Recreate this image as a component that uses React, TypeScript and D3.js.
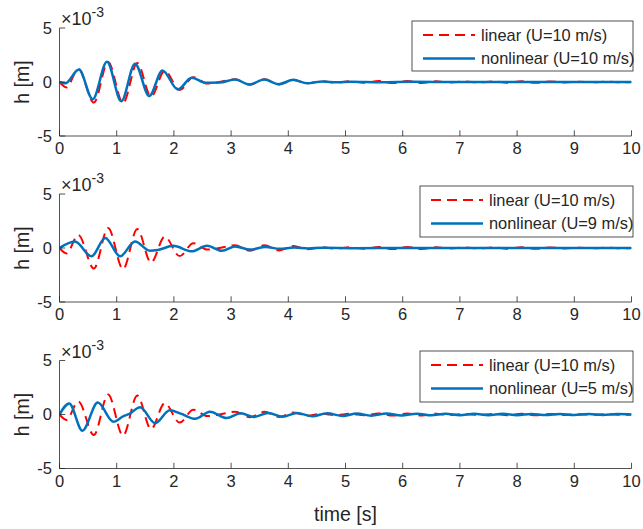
import React from 'react';
import * as d3 from 'd3';

// ---------- data (h in units of 1e-3 m, t in s) ----------
const TIME_TICKS = [0, 1, 2, 3, 4, 5, 6, 7, 8, 9, 10];
const H_TICKS = [-5, 0, 5];

const linearT = [0, 0.12, 0.33, 0.6, 0.85, 1.11, 1.36, 1.6, 1.84, 2.1, 2.34, 2.58, 2.82, 3.07, 3.33, 3.58, 3.84, 4.09, 4.33, 4.58, 4.83, 5.08, 5.33, 5.58, 5.83, 6.08, 6.33, 6.58, 6.83, 7.08, 7.33, 7.58, 7.83, 8.08, 8.33, 8.58, 8.83, 9.08, 9.33, 9.58, 9.83, 10];
const linearH = [0, -0.5, 1.2, -1.9, 1.85, -1.95, 1.75, -1.35, 1.05, -0.75, 0.45, -0.15, 0.02, 0.25, -0.25, 0.25, -0.22, 0.18, -0.12, 0.07, -0.05, 0.06, -0.08, 0.1, -0.1, 0.1, -0.09, 0.07, -0.05, 0.04, -0.04, 0.05, -0.06, 0.06, -0.06, 0.05, -0.04, 0.03, -0.03, 0.03, -0.03, 0];

const nl10T = [0, 0.1, 0.34, 0.58, 0.83, 1.08, 1.32, 1.57, 1.8, 2.07, 2.31, 2.55, 2.8, 3.07, 3.32, 3.58, 3.83, 4.09, 4.33, 4.6, 4.85, 5.1, 5.6, 6.2, 7, 8, 9, 10];
const nl10H = [0, -0.12, 1.15, -1.6, 1.87, -1.78, 1.7, -1.3, 1.07, -0.7, 0.4, -0.06, -0.05, 0.23, -0.23, 0.23, -0.2, 0.2, -0.12, 0.05, -0.03, 0.03, -0.02, 0.02, 0, 0.01, 0, 0.01];

const nl9T = [0, 0.27, 0.56, 0.8, 1.06, 1.32, 1.58, 1.72, 1.99, 2.31, 2.58, 2.84, 3.07, 3.33, 3.6, 3.85, 4.1, 4.35, 4.6, 5.2, 6, 7, 8, 9, 10];
const nl9H = [0, 0.6, -0.77, 0.93, -0.77, 0.6, -0.25, -0.18, 0.2, -0.3, 0.2, -0.25, 0.15, -0.15, 0.1, -0.08, 0.05, -0.04, 0.02, -0.02, 0.01, -0.01, 0, 0, 0];

const nl5T = [0, 0.17, 0.4, 0.67, 0.94, 1.12, 1.22, 1.41, 1.67, 1.93, 2.12, 2.37, 2.63, 2.92, 3.17, 3.4, 3.65, 3.9, 4.15, 4.42, 4.68, 4.95, 5.2, 5.45, 5.72, 5.98, 6.25, 6.5, 6.75, 7.0, 7.25, 7.5, 7.75, 8.0, 8.25, 8.5, 8.75, 9.0, 9.25, 9.5, 9.75, 10];
const nl5H = [0, 1.03, -1.5, 1.1, -0.67, -0.15, 0.05, 0.67, -0.8, 0.4, 0.08, -0.4, 0.26, -0.33, 0.12, -0.22, 0.14, -0.2, 0.13, -0.16, 0.11, -0.13, 0.09, -0.11, 0.09, -0.09, 0.08, -0.08, 0.07, -0.07, 0.06, -0.06, 0.06, -0.06, 0.05, -0.05, 0.05, -0.05, 0.04, -0.04, 0.04, 0];

const LINEAR_LABEL = 'linear (U=10 m/s)';
const NONLINEAR_LABELS = ['nonlinear (U=10 m/s)', 'nonlinear (U=9 m/s)', 'nonlinear (U=5 m/s)'];
const Y_LABEL = 'h [m]';
const X_LABEL = 'time [s]';

// ---------- layout ----------
const W = 643;
const H = 529;
const X0 = 59.5;
const X1 = 631.5;
const PANEL_TOPS = [28, 194, 360.5];
const PANEL_H = 108;
const LEGENDS = [
  { x: 412, y: 21, w: 221, h: 50 },
  { x: 420, y: 186, w: 213, h: 51 },
  { x: 420, y: 351, w: 213, h: 51 },
];
const FONT = '"Liberation Sans", Arial, Helvetica, sans-serif';
const AX = '#262626';
const BLUE = '#0072BD';
const RED = '#FF0000';

const zip = (t: number[], h: number[]) => t.map((v, i) => [v, h[i]] as [number, number]);

const panels = [
  { nl: zip(nl10T, nl10H), label: NONLINEAR_LABELS[0] },
  { nl: zip(nl9T, nl9H), label: NONLINEAR_LABELS[1] },
  { nl: zip(nl5T, nl5H), label: NONLINEAR_LABELS[2] },
];
const linearData = zip(linearT, linearH);

const x = d3.scaleLinear().domain([0, 10]).range([X0, X1]);

function Panel({ idx }: { idx: number }) {
  const top = PANEL_TOPS[idx];
  const bottom = top + PANEL_H;
  const y = d3.scaleLinear().domain([-5, 5]).range([bottom, top]);
  const line = d3
    .line<[number, number]>()
    .x((d) => x(d[0]))
    .y((d) => y(d[1]))
    .curve(d3.curveMonotoneX);
  const p = panels[idx];
  const lg = LEGENDS[idx];
  const tick = 5.7;
  const clipId = `clip${idx}`;
  return (
    <g>
      <defs>
        <clipPath id={clipId}>
          <rect x={X0} y={top} width={X1 - X0} height={PANEL_H} />
        </clipPath>
      </defs>
      <g clipPath={`url(#${clipId})`}>
        <path d={line(linearData) || ''} fill="none" stroke={RED} strokeWidth={2} strokeDasharray="10,6" />
        <path d={line(p.nl) || ''} fill="none" stroke={BLUE} strokeWidth={2.5} strokeLinejoin="round" />
      </g>
      {/* axes */}
      <line x1={X0} x2={X0} y1={top} y2={bottom} stroke={AX} strokeWidth={0.8} />
      <line x1={X0} x2={X1} y1={bottom} y2={bottom} stroke={AX} strokeWidth={0.8} />
      {TIME_TICKS.map((t) => (
        <g key={t}>
          <line x1={x(t)} x2={x(t)} y1={bottom} y2={bottom - tick} stroke={AX} strokeWidth={0.8} />
          <text x={x(t)} y={bottom + 18} textAnchor="middle" fontSize={16.5} fill={AX} fontFamily={FONT}>
            {t}
          </text>
        </g>
      ))}
      {H_TICKS.map((v) => (
        <g key={v}>
          <line x1={X0} x2={X0 + tick} y1={y(v)} y2={y(v)} stroke={AX} strokeWidth={0.8} />
          <text x={52} y={y(v)} dy="0.35em" textAnchor="end" fontSize={16.5} fill={AX} fontFamily={FONT}>
            {v}
          </text>
        </g>
      ))}
      <text x={61} y={top - 3} fontSize={18} fill={AX} fontFamily={FONT}>
        ×10
        <tspan dy={-8} fontSize={14}>
          -3
        </tspan>
      </text>
      <text
        transform={`translate(29,${(top + bottom) / 2}) rotate(-90)`}
        textAnchor="middle"
        fontSize={19.5}
        fill={AX}
        fontFamily={FONT}
      >
        {Y_LABEL}
      </text>
      {/* legend */}
      <rect x={lg.x} y={lg.y} width={lg.w} height={lg.h} fill="#fff" stroke={AX} strokeWidth={0.8} />
      <line x1={lg.x + 11} x2={lg.x + 63} y1={lg.y + 14} y2={lg.y + 14} stroke={RED} strokeWidth={2} strokeDasharray="10,6" />
      <text x={lg.x + 69} y={lg.y + 14} dy="0.35em" fontSize={16.4} fill={AX} fontFamily={FONT}>
        {LINEAR_LABEL}
      </text>
      <line x1={lg.x + 11} x2={lg.x + 63} y1={lg.y + 37.5} y2={lg.y + 37.5} stroke={BLUE} strokeWidth={2.5} />
      <text x={lg.x + 69} y={lg.y + 37.5} dy="0.35em" fontSize={16.4} fill={AX} fontFamily={FONT}>
        {p.label}
      </text>
    </g>
  );
}

export default function App() {
  return (
    <svg
      width={W}
      height={H}
      viewBox={`0 0 ${W} ${H}`}
      style={{ position: 'fixed', left: 0, top: 0, background: '#fff' }}
    >
      <rect x={0} y={0} width={W} height={H} fill="#fff" />
      {[0, 1, 2].map((i) => (
        <Panel key={i} idx={i} />
      ))}
      <text x={(X0 + X1) / 2} y={521} textAnchor="middle" fontSize={19.5} fill={AX} fontFamily={FONT}>
        {X_LABEL}
      </text>
    </svg>
  );
}
